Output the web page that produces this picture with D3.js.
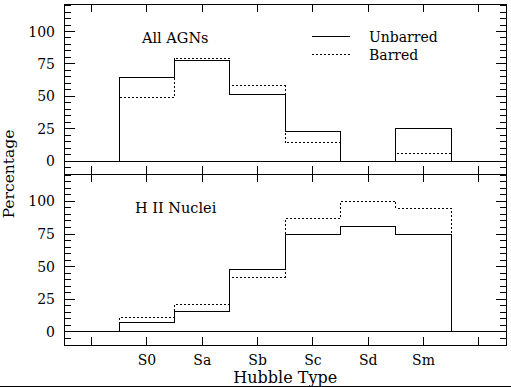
<!DOCTYPE html>
<html>
<head>
<meta charset="utf-8">
<script src="https://cdn.jsdelivr.net/npm/d3@7"></script>
<style>
  body { margin: 0; background: #fff; }
  svg text { font-family: "DejaVu Serif", serif; fill: #000; }
  svg line, svg path, svg rect { shape-rendering: crispEdges; }
</style>
</head>
<body>
<script>
// Hubble types, one bin per type
const types = ["S0", "Sa", "Sb", "Sc", "Sd", "Sm"];
const yTicks = [0, 25, 50, 75, 100];

// percentages
const agnUnbarred = [64.5, 77.5, 51.5, 22.5, 0, 25];
const agnBarred = [49, 79.5, 58, 14, 0, 6.2];
const hiiUnbarred = [7.5, 15.5, 47.5, 75, 80.5, 75];
const hiiBarred = [11, 21, 42, 87, 100, 94.5];

const width = 511, height = 387;
const left = 64, right = 506.5;
const panels = [
    { top: 4.3, bottom: 174, label: "All AGNs", lx: 142, ly: 43, unbarred: agnUnbarred, barred: agnBarred, legend: true },
    { top: 174, bottom: 345, label: "H II Nuclei", lx: 135, ly: 213, unbarred: hiiUnbarred, barred: hiiBarred, legend: false }
];

const svg = d3.select("body").append("svg")
    .attr("width", width)
    .attr("height", height);

const x = d3.scaleLinear().domain([-1.5, 6.5]).range([left, right]);

// step outline of a histogram
function steps(values) {
    let pts = [[-0.5, 0]];
    values.forEach((v, i) => {
        pts.push([i - 0.5, v]);
        pts.push([i + 0.5, v]);
    });
    pts.push([values.length - 0.5, 0]);
    return pts;
}

panels.forEach(p => {
    const y = d3.scaleLinear().domain([-10, 121]).range([p.bottom, p.top]);
    const g = svg.append("g");

    const line = d3.line().x(d => x(d[0])).y(d => y(d[1]));

    // barred (dashed) below, unbarred (solid) on top
    g.append("path")
        .attr("d", line(steps(p.barred)))
        .attr("fill", "none")
        .attr("stroke", "#000")
        .attr("stroke-dasharray", "2,2");
    g.append("path")
        .attr("d", line(steps(p.unbarred)))
        .attr("fill", "none")
        .attr("stroke", "#000");

    // zero line
    g.append("line")
        .attr("x1", left).attr("x2", right)
        .attr("y1", y(0)).attr("y2", y(0))
        .attr("stroke", "#000");

    // frame
    g.append("rect")
        .attr("x", left).attr("y", p.top)
        .attr("width", right - left).attr("height", p.bottom - p.top)
        .attr("fill", "none").attr("stroke", "#000");

    // y ticks, both sides, minor every 5
    const minor = d3.range(-5, 121, 5);
    minor.forEach(v => {
        const len = v % 25 === 0 ? 11 : 6.5;
        g.append("line")
            .attr("x1", left).attr("x2", left + len)
            .attr("y1", y(v)).attr("y2", y(v))
            .attr("stroke", "#000");
        g.append("line")
            .attr("x1", right).attr("x2", right - len)
            .attr("y1", y(v)).attr("y2", y(v))
            .attr("stroke", "#000");
    });

    // x ticks top and bottom
    d3.range(-1, 7).forEach(t => {
        g.append("line")
            .attr("x1", x(t)).attr("x2", x(t))
            .attr("y1", p.top).attr("y2", p.top + 8)
            .attr("stroke", "#000");
        g.append("line")
            .attr("x1", x(t)).attr("x2", x(t))
            .attr("y1", p.bottom).attr("y2", p.bottom - 8)
            .attr("stroke", "#000");
    });

    g.selectAll(".ylab")
        .data(yTicks)
        .join("text")
        .attr("x", 55)
        .attr("y", d => y(d) + 5)
        .attr("text-anchor", "end")
        .attr("font-size", 14)
        .text(d => d);

    g.append("text")
        .attr("x", p.lx).attr("y", p.ly)
        .attr("font-size", 14.5)
        .text(p.label);

    if (p.legend) {
        const items = [["Unbarred", null, 36, 41.7], ["Barred", "2,2", 54.5, 60]];
        items.forEach(it => {
            g.append("line")
                .attr("x1", 312).attr("x2", 350)
                .attr("y1", it[2]).attr("y2", it[2])
                .attr("stroke", "#000")
                .attr("stroke-dasharray", it[1]);
            g.append("text")
                .attr("x", 369).attr("y", it[3])
                .attr("font-size", 14)
                .text(it[0]);
        });
    }
});

// x tick labels under the lower panel
svg.selectAll(".xlab")
    .data(types)
    .join("text")
    .attr("x", (d, i) => x(i))
    .attr("y", 365)
    .attr("text-anchor", "middle")
    .attr("font-size", 14)
    .text(d => d);

svg.append("text")
    .attr("x", (left + right) / 2)
    .attr("y", 383)
    .attr("text-anchor", "middle")
    .attr("font-size", 16)
    .text("Hubble Type");

svg.append("text")
    .attr("transform", "translate(14,174) rotate(-90)")
    .attr("text-anchor", "middle")
    .attr("font-size", 15.5)
    .text("Percentage");

// rule along the bottom edge
svg.append("line")
    .attr("x1", 0).attr("x2", width)
    .attr("y1", 386).attr("y2", 386)
    .attr("stroke", "#000");
</script>
</body>
</html>
